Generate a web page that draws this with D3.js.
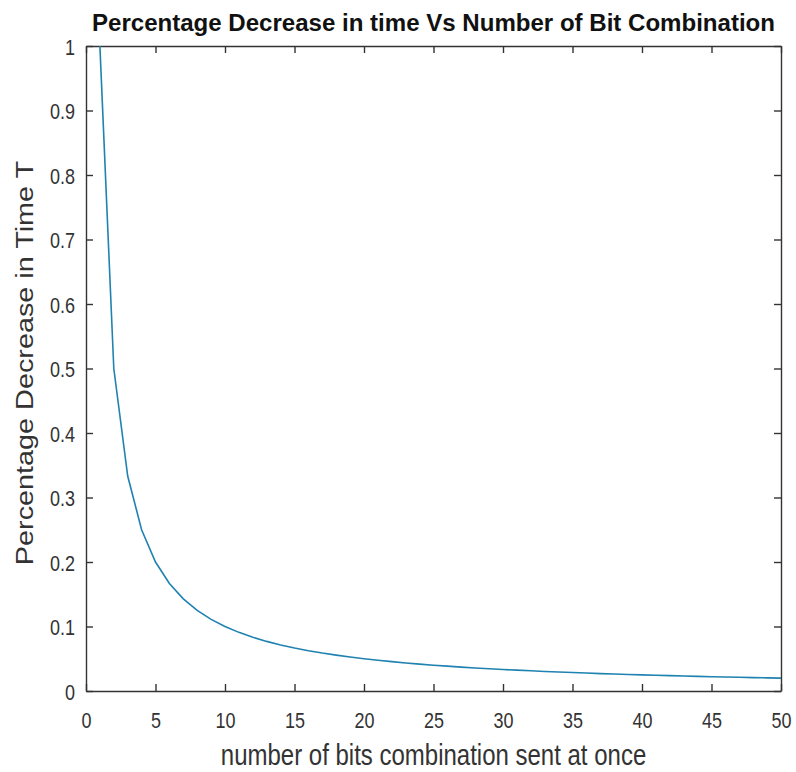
<!DOCTYPE html>
<meta charset="utf-8">
<script src="https://d3js.org/d3.v7.min.js"></script>
<style>
  body { margin: 0; background: #fff; }
  text { font-family: "Liberation Sans", Arial, sans-serif; }
</style>
<body>
<div id="chart"></div>
<script>
  var width = 796, height = 772
  var margin = {top: 46, right: 15, bottom: 81, left: 86}

  // number of bits sent at once
  var bits = [1,2,3,4,5,6,7,8,9,10,11,12,13,14,15,16,17,18,19,20,
              21,22,23,24,25,26,27,28,29,30,31,32,33,34,35,36,37,38,39,40,
              41,42,43,44,45,46,47,48,49,50]
  // percentage decrease in time
  var decrease = [1, 0.5, 0.3333, 0.25, 0.2, 0.1667, 0.1429, 0.125, 0.1111, 0.1,
                  0.0909, 0.0833, 0.0769, 0.0714, 0.0667, 0.0625, 0.0588, 0.0556, 0.0526, 0.05,
                  0.0476, 0.0455, 0.0435, 0.0417, 0.04, 0.0385, 0.037, 0.0357, 0.0345, 0.0333,
                  0.0323, 0.0313, 0.0303, 0.0294, 0.0286, 0.0278, 0.027, 0.0263, 0.0256, 0.025,
                  0.0244, 0.0238, 0.0233, 0.0227, 0.0222, 0.0217, 0.0213, 0.0208, 0.0204, 0.02]
  var xTicks = [0,5,10,15,20,25,30,35,40,45,50]
  var yTicks = [0,0.1,0.2,0.3,0.4,0.5,0.6,0.7,0.8,0.9,1]

  var w = width - margin.left - margin.right
  var h = height - margin.top - margin.bottom
  // the reference picture is stretched vertically a little
  var stretch = 1.2

  var svg = d3.select("#chart").append("svg")
      .attr("width", width)
      .attr("height", height)
  var g = svg.append("g")
      .attr("transform", "translate(" + margin.left + "," + margin.top + ")")

  var x = d3.scaleLinear().domain([0, 50]).range([0, w])
  var y = d3.scaleLinear().domain([0, 1]).range([h, 0])

  var fmt = function(d) { return d3.format("~g")(d) }

  // bottom and left axes with labels, ticks pointing inward
  var xAxis = g.append("g")
      .attr("transform", "translate(0," + h + ")")
      .call(d3.axisBottom(x).tickValues(xTicks).tickFormat(fmt).tickSizeInner(-7).tickSizeOuter(0))
  var yAxis = g.append("g")
      .call(d3.axisLeft(y).tickValues(yTicks).tickFormat(fmt).tickSizeInner(-7).tickSizeOuter(0))
  // top and right box edges with inward ticks
  g.append("g")
      .call(d3.axisTop(x).tickValues(xTicks).tickFormat("").tickSizeInner(-7).tickSizeOuter(0))
  g.append("g")
      .attr("transform", "translate(" + w + ",0)")
      .call(d3.axisRight(y).tickValues(yTicks).tickFormat("").tickSizeInner(-7).tickSizeOuter(0))

  svg.selectAll(".domain").attr("stroke", "#333").attr("stroke-width", 1.4)
  svg.selectAll(".tick line").attr("stroke", "#333").attr("stroke-width", 1.4)
  svg.selectAll(".tick text")
      .style("font-size", "18px")
      .attr("fill", "#333")
      .attr("x", 0).attr("y", 0).attr("dy", null)

  xAxis.selectAll(".tick text")
      .attr("transform", "translate(0,37) scale(1," + stretch + ")")
  yAxis.selectAll(".tick text")
      .attr("transform", "translate(-11,8) scale(1," + stretch + ")")

  var line = d3.line()
      .x(function(d, i) { return x(bits[i]) })
      .y(function(d) { return y(d) })

  g.append("path")
      .datum(decrease)
      .attr("fill", "none")
      .attr("stroke", "#1f82b0")
      .attr("stroke-width", 1.6)
      .attr("d", line)

  svg.append("text")
      .attr("x", margin.left + w / 2)
      .attr("y", 31)
      .attr("text-anchor", "middle")
      .attr("textLength", 683)
      .attr("lengthAdjust", "spacingAndGlyphs")
      .style("font-size", "23px")
      .style("font-weight", "bold")
      .attr("fill", "#111")
      .text("Percentage Decrease in time Vs Number of Bit Combination")

  svg.append("text")
      .attr("transform", "translate(" + (margin.left + w / 2) + ",765) scale(1," + stretch + ")")
      .attr("text-anchor", "middle")
      .style("font-size", "24px")
      .attr("fill", "#333")
      .text("number of bits combination sent at once")

  svg.append("text")
      .attr("transform", "translate(33,363) rotate(-90) scale(" + stretch + ",1)")
      .attr("text-anchor", "middle")
      .style("font-size", "24px")
      .attr("fill", "#333")
      .text("Percentage Decrease in Time T")
</script>
</body>
